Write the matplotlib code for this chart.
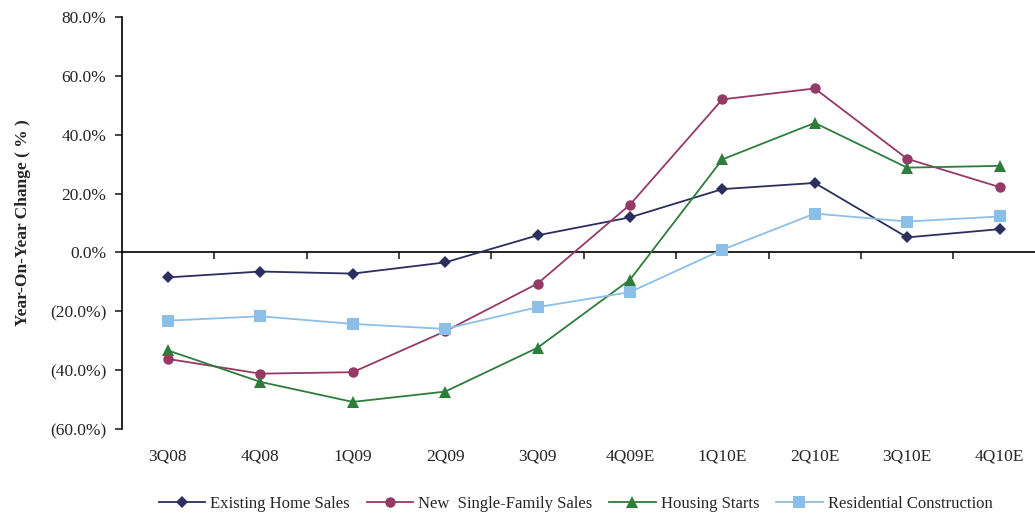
"""Year-on-year change in housing indicators, 3Q08 through 4Q10E."""

import matplotlib
matplotlib.use("Agg")
import matplotlib.pyplot as plt
from matplotlib.ticker import FuncFormatter

quarters = ["3Q08", "4Q08", "1Q09", "2Q09", "3Q09", "4Q09E",
            "1Q10E", "2Q10E", "3Q10E", "4Q10E"]

existing_home_sales = [-8.5, -6.5, -7.2, -3.4, 5.8, 11.9, 21.5, 23.6, 5.1, 7.9]
new_single_family = [-36.2, -41.2, -40.7, -26.8, -10.6, 16.2, 52.0, 55.7, 31.8, 22.2]
housing_starts = [-33.3, -44.0, -50.8, -47.3, -32.4, -9.3, 31.6, 44.0, 28.8, 29.4]
residential_construction = [-23.2, -21.7, -24.3, -26.0, -18.6, -13.5, 0.9, 13.2, 10.5, 12.2]

FONT = ["Liberation Serif", "DejaVu Serif"]
TEXT = "#262626"

plt.rcParams.update({
    "font.family": FONT,
    "font.size": 12,
    "text.color": TEXT,
    "axes.labelcolor": TEXT,
    "xtick.color": TEXT,
    "ytick.color": TEXT,
})


def pct_label(v, _pos):
    if v < 0:
        return f"({abs(v):.1f}%)"
    return f"{v:.1f}%"


fig = plt.figure(figsize=(10.35, 5.14), dpi=100)
ax = fig.add_axes([0.1176, 0.1654, 0.8928, 0.8016])

series = [
    ("Existing Home Sales", existing_home_sales, "#2B2E5E", "D", 6.5),
    ("New  Single-Family Sales", new_single_family, "#953A66", "o", 7.5),
    ("Housing Starts", housing_starts, "#2E7D3C", "^", 8.5),
    ("Residential Construction", residential_construction, "#8CBFE8", "s", 9),
]
x = list(range(len(quarters)))
for name, vals, color, marker, ms in series:
    ax.plot(x, vals, color=color, lw=1.3, marker=marker, ms=ms,
            markeredgewidth=0, label=name)

ax.set_xlim(-0.5, 9.5)
ax.set_ylim(-60, 80)
ax.set_yticks(range(-60, 81, 20))
ax.yaxis.set_major_formatter(FuncFormatter(pct_label))
ax.tick_params(axis="y", direction="out", length=5, width=1.2, pad=6,
               labelsize=12.5)
ax.set_ylabel("Year-On-Year Change ( % )", fontweight="bold", fontsize=12.5,
              labelpad=14)

# category labels along the bottom, no visible bottom spine
ax.set_xticks(x)
ax.set_xticklabels(quarters, fontsize=12.5)
ax.tick_params(axis="x", length=0, pad=14)
for side in ("top", "right", "bottom"):
    ax.spines[side].set_visible(False)
ax.spines["left"].set_linewidth(1.2)

# zero line with tick marks between categories
zero = ax.secondary_xaxis(60 / 140)
zero.set_xticks([i + 0.5 for i in range(len(quarters) - 1)])
zero.set_xticklabels([])
zero.tick_params(axis="x", direction="out", length=5, width=1.2)
zero.spines["bottom"].set_linewidth(1.2)
zero.spines["top"].set_linewidth(1.2)

fig.legend(loc="center", bbox_to_anchor=(0.556, 0.020), ncol=4,
           frameon=False, fontsize=12, handlelength=2.8, handletextpad=0.3,
           columnspacing=1.0)

fig.savefig("out.png", dpi=100)
